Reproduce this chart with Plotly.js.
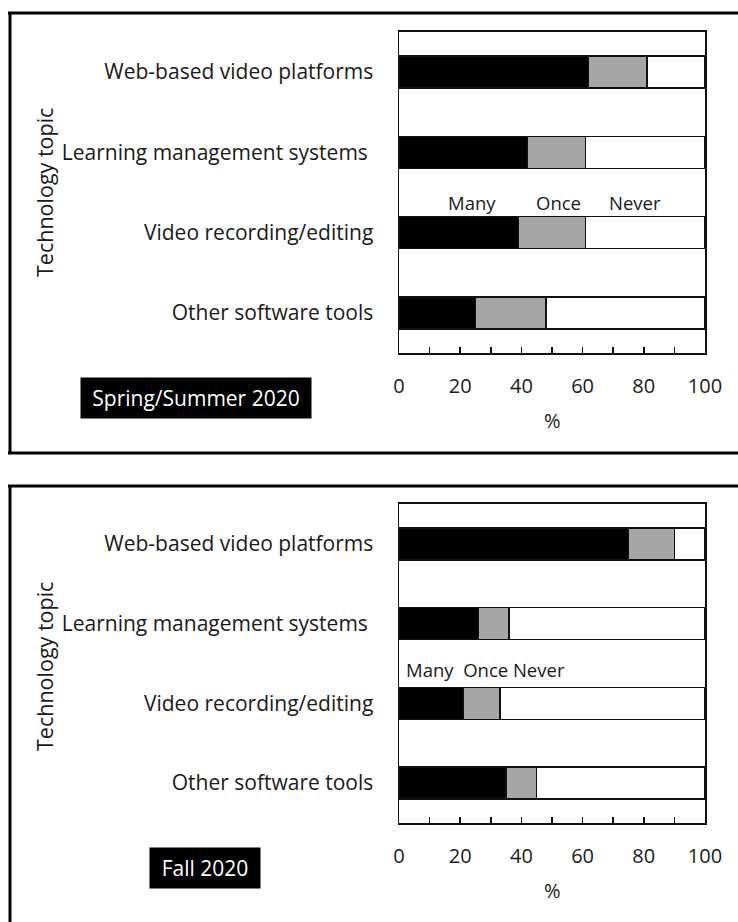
<!DOCTYPE html>
<html><head><meta charset="utf-8">
<script src="https://cdn.plot.ly/plotly-3.0.1.min.js"></script>
<style>html,body{margin:0;padding:0;background:#fff}</style>
</head><body><div id="chart" style="width:738px;height:922px"></div>
<script>
const categories = ["Web-based video platforms", "Learning management systems ", "Video recording/editing", "Other software tools"];
const seriesNames = ["Many", "Once", "Never"];
const springMany = [62, 42, 39, 25];
const springOnce = [19, 19, 22, 23];
const springNever = [19, 39, 39, 52];
const fallMany = [75, 26, 21, 35];
const fallOnce = [15, 10, 12, 10];
const fallNever = [10, 64, 67, 55];
const xTickVals = [0, 20, 40, 60, 80, 100];
const panelLabels = ["Spring/Summer 2020", "Fall 2020"];
const axisTitleY = "Technology topic";
const axisTitleX = "%";

const colors = ["#000000", "#a6a6a6", "#ffffff"];
const FONT = "Open Sans, sans-serif";
const TXT = "#1a1a1a";
const W = 738, H = 922;
const px = v => v / W;
const py = v => 1 - v / H;

const traces = [];
[[springMany, springOnce, springNever], [fallMany, fallOnce, fallNever]].forEach((set, p) => {
  set.forEach((vals, i) => {
    traces.push({
      type: "bar", orientation: "h", name: seriesNames[i],
      x: vals, y: categories, width: 0.4,
      xaxis: p === 0 ? "x" : "x2", yaxis: p === 0 ? "y" : "y2",
      marker: {color: colors[i], line: {color: "#111", width: 1.5}},
      hoverinfo: "x+name"
    });
  });
});

function xax(anchor) {
  return {
    domain: [px(399), px(705)], range: [0, 100], anchor: anchor,
    tickvals: xTickVals, ticks: "inside", ticklen: 6, tickwidth: 1.5, tickcolor: "#111",
    minor: {dtick: 10, ticks: "inside", ticklen: 6, tickwidth: 1.5, tickcolor: "#111"},
    showline: true, linewidth: 2, linecolor: "#111", mirror: true,
    showgrid: false, zeroline: false, fixedrange: true,
    ticklabelstandoff: 14,
    tickfont: {family: FONT, size: 20, color: TXT}
  };
}
function yax(anchor, top, bottom) {
  return {
    domain: [py(bottom), py(top)], type: "category", range: [3.5, -0.5], anchor: anchor,
    showline: true, linewidth: 1.5, linecolor: "#111", mirror: true,
    ticks: "", showgrid: false, zeroline: false, fixedrange: true,
    ticklabelstandoff: 20,
    tickfont: {family: FONT, size: 21, color: TXT}
  };
}

const base = {showarrow: false, xanchor: "center", yanchor: "middle"};
const annotations = [
  // axis titles
  Object.assign({}, base, {xref: "paper", yref: "paper", x: px(44), y: py(193), text: axisTitleY, textangle: -90,
   font: {family: FONT, size: 21.5, color: TXT}}),
  Object.assign({}, base, {xref: "paper", yref: "paper", x: px(44), y: py(667), text: axisTitleY, textangle: -90,
   font: {family: FONT, size: 21.5, color: TXT}}),
  Object.assign({}, base, {xref: "x", yref: "paper", x: 50, y: py(420), text: axisTitleX,
   font: {family: FONT, size: 20, color: TXT}}),
  Object.assign({}, base, {xref: "x2", yref: "paper", x: 50, y: py(890), text: axisTitleX,
   font: {family: FONT, size: 20, color: TXT}}),
  // in-plot legend labels
  Object.assign({}, base, {xref: "x", yref: "y", x: 24, y: 1.62, text: seriesNames[0], font: {family: FONT, size: 18.5, color: TXT}}),
  Object.assign({}, base, {xref: "x", yref: "y", x: 52, y: 1.62, text: seriesNames[1], font: {family: FONT, size: 18.5, color: TXT}}),
  Object.assign({}, base, {xref: "x", yref: "y", x: 77, y: 1.62, text: seriesNames[2], font: {family: FONT, size: 18.5, color: TXT}}),
  Object.assign({}, base, {xref: "x2", yref: "y2", x: 1.5, y: 1.58, xanchor: "left",
   text: seriesNames[0] + "&nbsp; " + seriesNames[1] + " " + seriesNames[2], font: {family: FONT, size: 18.5, color: TXT}}),
  // panel labels
  Object.assign({}, base, {xref: "paper", yref: "paper", x: px(196), y: py(398), text: panelLabels[0],
   bgcolor: "#000", width: 226, height: 36, borderpad: 2, font: {family: FONT, size: 21, color: "#fff"}}),
  Object.assign({}, base, {xref: "paper", yref: "paper", x: px(205), y: py(868), text: panelLabels[1],
   bgcolor: "#000", width: 106, height: 36, borderpad: 2, font: {family: FONT, size: 21, color: "#fff"}})
];

const ln = {color: "#000", width: 3};
const shapes = [
  {type: "line", xref: "paper", yref: "paper", x0: px(8), x1: 1, y0: py(13), y1: py(13), line: ln},
  {type: "line", xref: "paper", yref: "paper", x0: px(10), x1: px(10), y0: py(12), y1: py(454), line: ln},
  {type: "line", xref: "paper", yref: "paper", x0: px(8), x1: 1, y0: py(453), y1: py(453), line: ln},
  {type: "line", xref: "paper", yref: "paper", x0: px(8), x1: 1, y0: py(486), y1: py(486), line: ln},
  {type: "line", xref: "paper", yref: "paper", x0: px(10), x1: px(10), y0: py(485), y1: 0, line: ln}
];

const layout = {
  width: W, height: H, margin: {l: 0, r: 0, t: 0, b: 0},
  paper_bgcolor: "#fff", plot_bgcolor: "#fff",
  barmode: "stack", showlegend: false,
  font: {family: FONT, size: 20, color: TXT},
  xaxis: xax("y"), yaxis: yax("x", 32, 353),
  xaxis2: xax("y2"), yaxis2: yax("x2", 504, 823),
  annotations: annotations, shapes: shapes
};

Plotly.newPlot("chart", traces, layout, {displayModeBar: false, staticPlot: true});
</script></body></html>
